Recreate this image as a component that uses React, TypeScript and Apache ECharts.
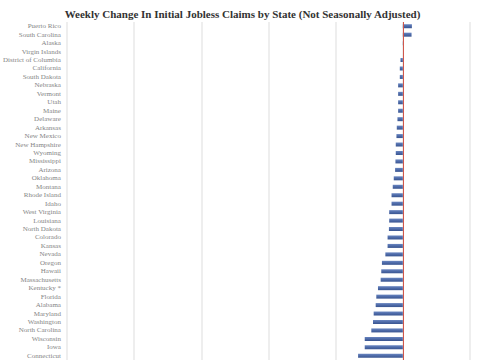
import React, { useEffect, useRef } from "react";
import * as echarts from "echarts";

const states: string[] = [
  "Puerto Rico", "South Carolina", "Alaska", "Virgin Islands", "District of Columbia",
  "California", "South Dakota", "Nebraska", "Vermont", "Utah", "Maine", "Delaware",
  "Arkansas", "New Mexico", "New Hampshire", "Wyoming", "Mississippi", "Arizona",
  "Oklahoma", "Montana", "Rhode Island", "Idaho", "West Virginia", "Louisiana",
  "North Dakota", "Colorado", "Kansas", "Nevada", "Oregon", "Hawaii", "Massachusetts",
  "Kentucky *", "Florida", "Alabama", "Maryland", "Washington", "North Carolina",
  "Wisconsin", "Iowa", "Connecticut",
];

const weeklyChange: number[] = [
  135, 130, 15, 0, -35,
  -45, -45, -70, -70, -70, -70, -80,
  -90, -95, -105, -105, -110, -115,
  -135, -150, -168, -168, -203, -203,
  -207, -227, -227, -260, -311, -321, -330,
  -370, -395, -404, -434, -444, -469,
  -567, -567, -666,
];

const axisMin = -5000;
const axisMax = 1000;
const axisInterval = 1000;

export default function App() {
  const ref = useRef<HTMLDivElement>(null);
  useEffect(() => {
    if (!ref.current) return;
    const chart = echarts.init(ref.current, undefined, { renderer: "svg" });
    chart.setOption({
      animation: false,
      backgroundColor: "#ffffff",
      title: {
        text: "Weekly Change In Initial Jobless Claims by State (Not Seasonally Adjusted)",
        left: "center",
        top: 3,
        textStyle: {
          fontFamily: "Liberation Serif",
          fontWeight: "bold",
          fontSize: 11,
          color: "#333333",
        },
      },
      grid: { left: 64, right: 15, top: 22, bottom: 0, containLabel: false },
      xAxis: {
        type: "value",
        min: axisMin,
        max: axisMax,
        interval: axisInterval,
        axisLabel: { show: false },
        axisLine: { show: false },
        axisTick: { show: false },
        splitLine: { show: true, lineStyle: { color: "#e8e8e8", width: 1.5 } },
      },
      yAxis: {
        type: "category",
        data: states,
        inverse: true,
        axisLine: { show: false },
        axisTick: { show: false },
        splitLine: { show: false },
        axisLabel: {
          fontFamily: "Liberation Serif",
          fontSize: 7,
          color: "#858585",
          margin: 6,
          interval: 0,
        },
      },
      series: [
        {
          type: "bar",
          data: weeklyChange,
          barWidth: 4,
          itemStyle: {
            color: new echarts.graphic.LinearGradient(0, 0, 0, 1, [
              { offset: 0, color: "#6a86c0" },
              { offset: 0.5, color: "#4d6aa8" },
              { offset: 1, color: "#3a5590" },
            ]),
          },
          markLine: {
            silent: true,
            symbol: "none",
            label: { show: false },
            lineStyle: { color: "#d0574c", width: 1, type: "solid" },
            data: [{ xAxis: 0 }],
          },
        },
      ],
    });
    return () => chart.dispose();
  }, []);
  return (
    <div
      ref={ref}
      style={{ position: "fixed", left: 0, top: 0, width: 485, height: 360, background: "#fff" }}
    />
  );
}
